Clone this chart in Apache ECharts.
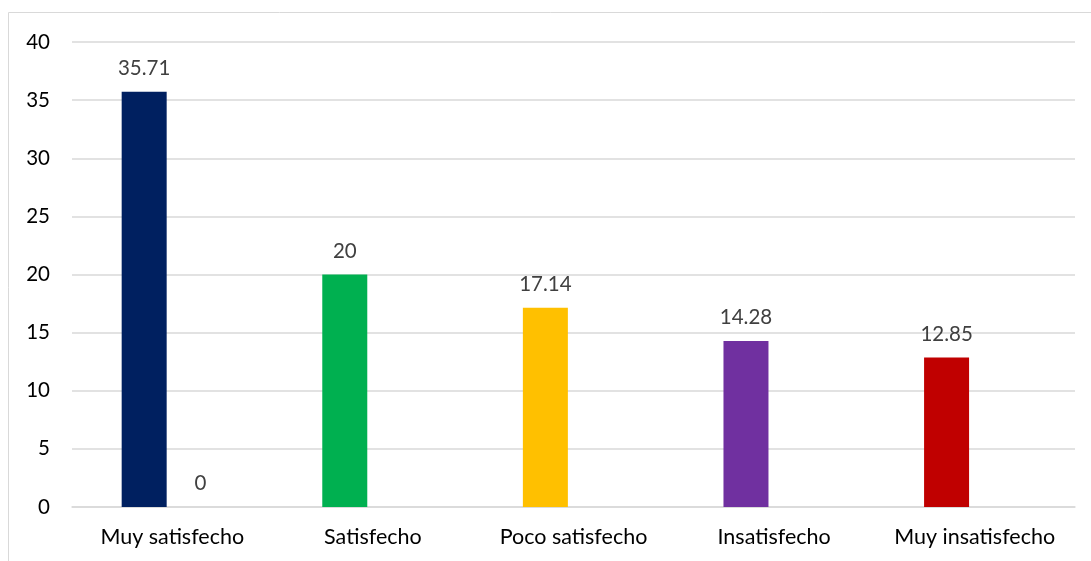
<!DOCTYPE html>
<html>
<head>
<meta charset="utf-8">
<style>
  html, body { margin: 0; padding: 0; background: #fff; }
  #chart { width: 1091px; height: 561px; }
</style>
<script src="https://cdn.jsdelivr.net/npm/echarts@6/dist/echarts.min.js"></script>
</head>
<body>
<div id="chart"></div>
<script>
// Satisfaction levels and their percentages
const categories = ['Muy satisfecho', 'Satisfecho', 'Poco satisfecho', 'Insatisfecho', 'Muy insatisfecho'];
const percentages = [35.71, 20, 17.14, 14.28, 12.85];
const secondSeries = [0, null, null, null, null];
const barColors = ['#002060', '#00B050', '#FFC000', '#7030A0', '#C00000'];
const yTicks = { min: 0, max: 40, interval: 5 };

const FONT = 'Lato, "Open Sans", sans-serif';

const chart = echarts.init(document.getElementById('chart'), null, { renderer: 'canvas' });

const valueLabel = {
  show: true,
  position: 'top',
  distance: 13,
  fontFamily: FONT,
  fontSize: 20.5,
  color: '#404040',
  formatter: p => String(p.value)
};

chart.setOption({
  animation: false,
  graphic: [{
    type: 'rect',
    shape: { x: 8.5, y: 12.5, width: 1090, height: 560 },
    style: { fill: 'none', stroke: '#d9d9d9', lineWidth: 1 },
    silent: true
  }],
  grid: { left: 72, right: 16, top: 42, bottom: 54 },
  xAxis: {
    type: 'category',
    data: categories,
    axisTick: { show: false },
    axisLine: { lineStyle: { color: '#d9d9d9', width: 1.5 } },
    axisLabel: { interval: 0, hideOverlap: false, fontFamily: FONT, fontSize: 21.5, color: '#000', margin: 19 }
  },
  yAxis: {
    type: 'value',
    min: yTicks.min,
    max: yTicks.max,
    interval: yTicks.interval,
    axisLine: { show: false },
    axisTick: { show: false },
    splitLine: { lineStyle: { color: '#d9d9d9', width: 1.5 } },
    axisLabel: { fontFamily: FONT, fontSize: 20.5, color: '#000', margin: 22 }
  },
  series: [
    {
      type: 'bar',
      data: percentages.map((v, i) => ({ value: v, itemStyle: { color: barColors[i] } })),
      barWidth: 45,
      barGap: '25%',
      label: valueLabel
    },
    {
      type: 'bar',
      data: secondSeries,
      barWidth: 45,
      itemStyle: { color: '#ED7D31' },
      label: valueLabel
    }
  ]
});
</script>
</body>
</html>
